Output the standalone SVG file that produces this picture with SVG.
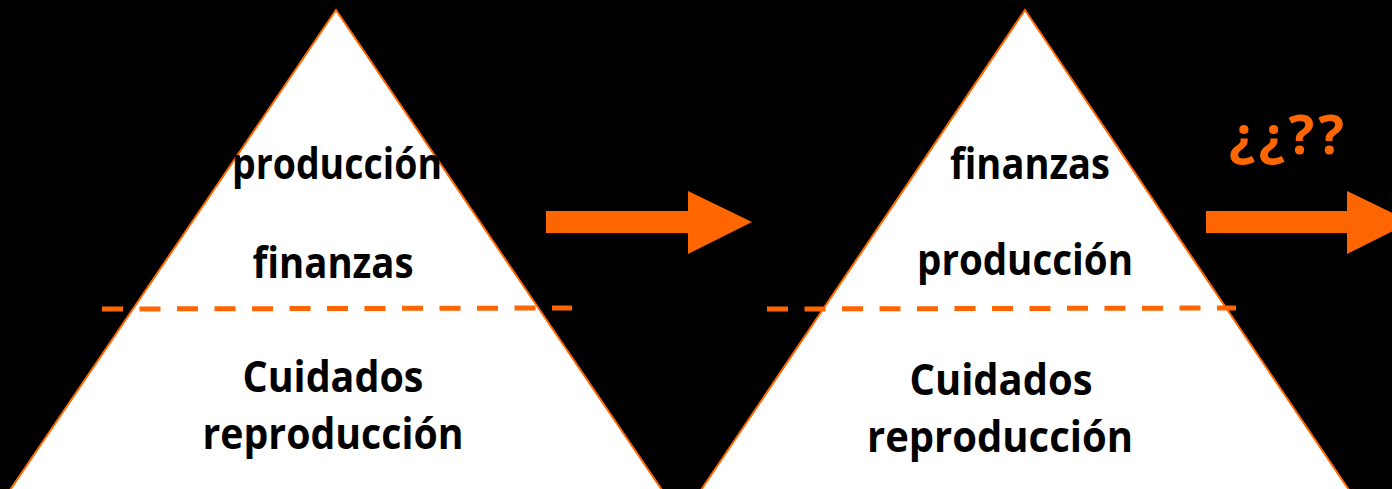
<svg xmlns="http://www.w3.org/2000/svg" width="1392" height="489" viewBox="0 0 1392 489">
<style>
.tri{fill:#FFFFFF;stroke:#FF6600;stroke-width:2}
.lbl{font-family:"Open Sans","Liberation Sans",sans-serif;font-weight:bold;font-size:43px;fill:#000000;text-anchor:middle}
.dash{stroke:#FF6600;stroke-width:5;stroke-dasharray:21 16.5;fill:none}
.arrow{fill:#FF6600}
.q{font-family:"Open Sans","Liberation Sans",sans-serif;font-weight:bold;font-size:54px;fill:#FF6600}
</style>
<rect x="0" y="0" width="1392" height="489" fill="#000000"/>
<g id="pyramid1">
<polygon class="tri" points="336,10 10,490 662,490"/>
<text class="lbl" x="337" y="179" textLength="210" lengthAdjust="spacingAndGlyphs">producción</text>
<text class="lbl" x="333" y="278" textLength="161" lengthAdjust="spacingAndGlyphs">finanzas</text>
<text class="lbl" x="333" y="392" textLength="181" lengthAdjust="spacingAndGlyphs">Cuidados</text>
<text class="lbl" x="333" y="449" textLength="261" lengthAdjust="spacingAndGlyphs">reproducción</text>
</g>
<g id="pyramid2">
<polygon class="tri" points="1025,10 701,490 1349,490"/>
<text class="lbl" x="1030" y="179" textLength="160" lengthAdjust="spacingAndGlyphs">finanzas</text>
<text class="lbl" x="1025" y="275" textLength="216" lengthAdjust="spacingAndGlyphs">producción</text>
<text class="lbl" x="1001" y="395" textLength="183" lengthAdjust="spacingAndGlyphs">Cuidados</text>
<text class="lbl" x="1000" y="452" textLength="266" lengthAdjust="spacingAndGlyphs">reproducción</text>
</g>
<g id="label-question">
<text class="q" x="1229" y="154" textLength="115" lengthAdjust="spacing">¿¿??</text>
</g>
<g id="connectors">
<line class="dash" x1="102" y1="309" x2="572" y2="308"/>
<line class="dash" x1="767" y1="309" x2="1236" y2="308"/>
<polygon class="arrow" points="546,211 688,211 688,191 752,222 688,254 688,233 546,233"/>
<polygon class="arrow" points="1206,211 1347,211 1347,191 1411,222 1347,254 1347,233 1206,233"/>
</g>
</svg>
